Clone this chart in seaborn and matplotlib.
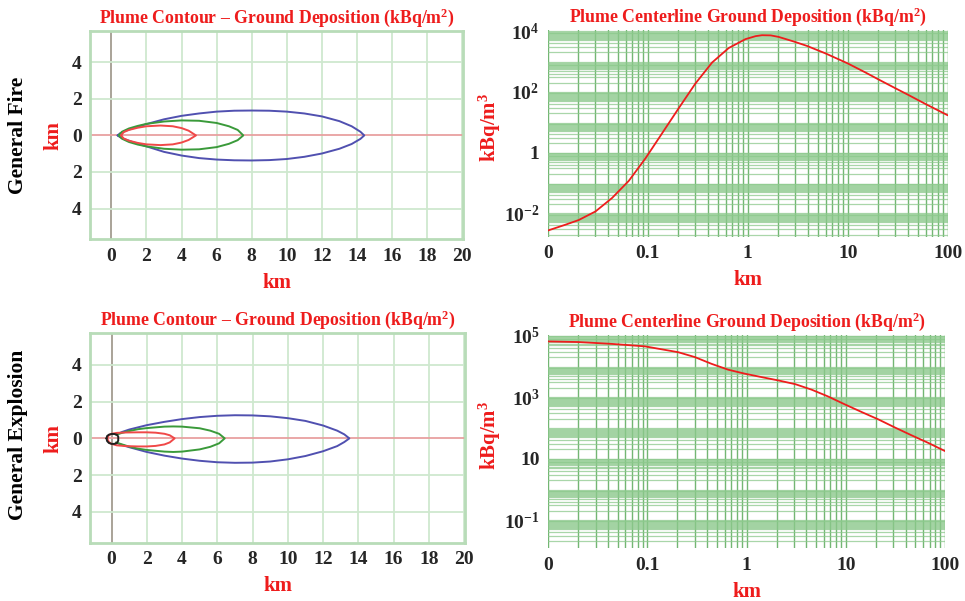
import numpy as np
import pandas as pd
import matplotlib
matplotlib.use("Agg")
import matplotlib.pyplot as plt
from matplotlib.ticker import FixedLocator, FixedFormatter, LogLocator, NullFormatter
import seaborn as sns

sns.set_theme(style="white")
plt.rcParams["font.family"] = ["Liberation Serif", "DejaVu Serif"]
plt.rcParams["font.weight"] = "bold"
plt.rcParams["mathtext.fontset"] = "custom"
plt.rcParams["mathtext.rm"] = "Liberation Serif:bold"
plt.rcParams["mathtext.it"] = "Liberation Serif:bold"
plt.rcParams["mathtext.bf"] = "Liberation Serif:bold"

# ---------------- data ----------------
row_labels = ["General Fire", "General Explosion"]
contour_title = "Plume Contour \u2013 Ground Deposition (kBq/m$^{2}$)"
center_title = "Plume Centerline Ground Deposition (kBq/m$^{2}$)"

contour_xticks = [0, 2, 4, 6, 8, 10, 12, 14, 16, 18, 20]
contour_yticks = [-4, -2, 0, 2, 4]
contour_yticklabels = ["4", "2", "0", "2", "4"]

# General Fire contours (x km, upper / lower half-width km)
fire_blue_x = [0.35, 0.5, 0.8, 1.2, 2, 3, 4, 5, 6, 7, 8, 9, 10, 11, 12, 13, 13.7, 14.2, 14.42]
fire_blue_up = [0, 0.12, 0.25, 0.38, 0.62, 0.88, 1.07, 1.2, 1.3, 1.35, 1.36, 1.35, 1.3, 1.2, 1.04, 0.78, 0.5, 0.2, 0]
fire_blue_lo = [0, -0.1, -0.22, -0.36, -0.6, -0.9, -1.1, -1.24, -1.32, -1.36, -1.37, -1.35, -1.29, -1.17, -0.99, -0.73, -0.47, -0.19, 0]

fire_green_x = [0.42, 0.6, 1, 1.5, 2, 3, 4, 5, 6, 6.7, 7.2, 7.52]
fire_green_up = [0, 0.2, 0.38, 0.52, 0.63, 0.76, 0.82, 0.8, 0.68, 0.5, 0.3, 0]
fire_green_lo = [0, -0.18, -0.36, -0.5, -0.6, -0.73, -0.78, -0.76, -0.64, -0.46, -0.26, 0]

fire_red_x = [0.55, 0.7, 1, 1.5, 2, 2.8, 3.5, 4, 4.4, 4.82]
fire_red_up = [0, 0.18, 0.3, 0.42, 0.5, 0.54, 0.5, 0.4, 0.26, 0]
fire_red_lo = [0, -0.17, -0.29, -0.41, -0.49, -0.53, -0.49, -0.39, -0.25, 0]

# General Explosion contours
expl_blue_x = [0.3, 0.6, 1, 2, 3, 4, 5, 6, 7, 8, 9, 10, 11, 12, 12.8, 13.2, 13.49]
expl_blue_up = [0.22, 0.35, 0.48, 0.72, 0.9, 1.05, 1.16, 1.23, 1.26, 1.25, 1.2, 1.1, 0.95, 0.7, 0.42, 0.22, 0]
expl_blue_lo = [-0.25, -0.36, -0.48, -0.74, -0.94, -1.1, -1.22, -1.3, -1.33, -1.32, -1.26, -1.14, -0.96, -0.7, -0.42, -0.2, 0]

expl_green_x = [0.25, 0.6, 1, 1.5, 2, 3, 3.5, 4, 5, 5.6, 6.1, 6.42]
expl_green_up = [0.2, 0.3, 0.4, 0.5, 0.56, 0.64, 0.65, 0.64, 0.55, 0.42, 0.25, 0]
expl_green_lo = [-0.22, -0.33, -0.45, -0.56, -0.63, -0.72, -0.74, -0.72, -0.6, -0.46, -0.27, 0]

expl_red_x = [-0.25, -0.15, 0, 0.3, 0.8, 1.5, 2, 2.5, 3, 3.3, 3.58]
expl_red_up = [0, 0.18, 0.25, 0.3, 0.32, 0.33, 0.33, 0.31, 0.25, 0.17, 0]
expl_red_lo = [0, -0.2, -0.3, -0.38, -0.42, -0.44, -0.44, -0.41, -0.33, -0.22, 0]

expl_black_x = [-0.29, -0.25, -0.15, 0, 0.15, 0.3, 0.38]
expl_black_up = [0, 0.13, 0.2, 0.24, 0.24, 0.2, 0.1]
expl_black_lo = [0, -0.15, -0.25, -0.3, -0.3, -0.26, -0.12]

# Centerline deposition (km, kBq/m2)
fire_cl_x = [0.01, 0.015, 0.0204, 0.030, 0.044, 0.0646, 0.095, 0.139, 0.204, 0.30, 0.44, 0.645,
             0.95, 1.2, 1.39, 1.7, 2.04, 2.88, 3.9, 6.0, 10, 15, 20, 30, 40, 60, 100]
fire_cl_y = [2.7e-3, 4.2e-3, 6.0e-3, 0.0115, 0.032, 0.117, 0.65, 4.3, 29, 190, 930, 2800,
             5500, 6900, 7400, 7300, 6500, 4600, 3300, 1860, 870, 440, 265, 132, 81, 40, 17]

expl_cl_x = [0.01, 0.02, 0.0437, 0.094, 0.204, 0.30, 0.444, 0.652, 0.96, 1.41, 2.09, 3.09, 4.52,
             6.6, 9.8, 14.5, 21.4, 31.3, 45.7, 67.6, 93.3, 100]
expl_cl_y = [64600, 61700, 53700, 44700, 28800, 20000, 12000, 7760, 5750, 4470, 3470, 2630, 1740,
             1050, 575, 324, 186, 102, 57.5, 32.4, 19.5, 17.5]

log_xticks = [0.01, 0.1, 1, 10, 100]
log_xticklabels = ["0", "0.1", "1", "10", "100"]
fire_yticks = [1e-2, 1, 1e2, 1e4]
fire_yticklabels = [r"$10^{-2}$", "1", r"$10^{2}$", r"$10^{4}$"]
expl_yticks = [1e-1, 10, 1e3, 1e5]
expl_yticklabels = [r"$10^{-1}$", "10", r"$10^{3}$", r"$10^{5}$"]

RED = "#ee1c1c"

fig = plt.figure(figsize=(9.65, 6.01), dpi=100)
ax_tl = fig.add_axes([0.0933, 0.6018, 0.3865, 0.347])
ax_bl = fig.add_axes([0.0933, 0.0970, 0.3886, 0.3484])
ax_tr = fig.add_axes([0.5676, 0.6062, 0.4145, 0.3439])
ax_br = fig.add_axes([0.5682, 0.0877, 0.4111, 0.3550])


def closed_path(xs, up, lo):
    x = list(xs) + list(xs)[::-1]
    y = list(up) + list(lo)[::-1]
    return pd.DataFrame({"x": x, "y": y})


def contour_axes(ax, contours):
    ax.set_xlim(-1.22, 20.05)
    ax.set_ylim(-5.68, 5.72)
    for xv in contour_xticks:
        ax.axvline(xv, color="#a39c90" if xv == 0 else "#cfe8cf", lw=1.3, zorder=0)
    for yv in contour_yticks:
        ax.axhline(yv, color="#e8a0a0" if yv == 0 else "#cfe8cf", lw=1.3, zorder=0)
    for xs, up, lo, col in contours:
        df = closed_path(xs, up, lo)
        sns.lineplot(data=df, x="x", y="y", sort=False, estimator=None, color=col,
                     lw=1.4, ax=ax)
    ax.set_xticks(contour_xticks)
    ax.set_yticks(contour_yticks)
    ax.set_yticklabels(contour_yticklabels)
    ax.tick_params(length=0, labelsize=14, pad=6)
    for sp in ax.spines.values():
        sp.set_color("#b8dcb8")
        sp.set_linewidth(2)
    ax.set_xlabel("km", color=RED, fontsize=15, fontweight="bold", labelpad=6)
    ax.set_ylabel("km", color=RED, fontsize=15, fontweight="bold", labelpad=6)
    ax.set_title(contour_title, color=RED, fontsize=12.8, fontweight="bold", pad=6)


def log_axes(ax, xs, ys, ylim, yticks, yticklabels, label_x):
    df = pd.DataFrame({"x": xs, "y": ys})
    ax.set_xscale("log")
    ax.set_yscale("log")
    ax.set_xlim(0.01, 100)
    ax.set_ylim(*ylim)
    ax.xaxis.set_minor_locator(LogLocator(base=10, subs=np.arange(2, 10)))
    ax.yaxis.set_minor_locator(LogLocator(base=10, subs=[2, 3, 4, 5, 5.5, 6, 6.5, 7, 7.5, 8, 8.5, 9, 9.5], numticks=40))
    ax.xaxis.set_minor_formatter(NullFormatter())
    ax.yaxis.set_minor_formatter(NullFormatter())
    ax.grid(True, which="both", axis="x", color="#5aaa5a", lw=1.0, alpha=0.85)
    ax.grid(True, which="both", axis="y", color="#8cc98c", lw=0.9, alpha=0.75)
    ax.set_axisbelow(True)
    sns.lineplot(data=df, x="x", y="y", color=RED, lw=1.3, ax=ax)
    ax.xaxis.set_major_locator(FixedLocator(log_xticks))
    ax.xaxis.set_major_formatter(FixedFormatter(log_xticklabels))
    ax.yaxis.set_major_locator(FixedLocator(yticks))
    ax.yaxis.set_major_formatter(FixedFormatter(yticklabels))
    ax.tick_params(which="both", length=0, labelsize=14, pad=6)
    for name, sp in ax.spines.items():
        sp.set_visible(False)
    ax.set_xlabel("km", color=RED, fontsize=15, fontweight="bold", labelpad=6)
    ax.set_ylabel("kBq/m$^{3}$", color=RED, fontsize=15, fontweight="bold")
    ax.yaxis.set_label_coords(label_x, 0.53)
    ax.set_title(center_title, color=RED, fontsize=12.8, fontweight="bold", pad=6)


contour_axes(ax_tl, [
    (fire_blue_x, fire_blue_up, fire_blue_lo, "#5050b0"),
    (fire_green_x, fire_green_up, fire_green_lo, "#3a9a3a"),
    (fire_red_x, fire_red_up, fire_red_lo, "#f04848"),
])
contour_axes(ax_bl, [
    (expl_blue_x, expl_blue_up, expl_blue_lo, "#5050b0"),
    (expl_green_x, expl_green_up, expl_green_lo, "#3a9a3a"),
    (expl_red_x, expl_red_up, expl_red_lo, "#f04848"),
    (expl_black_x, expl_black_up, expl_black_lo, "#202020"),
])

log_axes(ax_tr, fire_cl_x, fire_cl_y, (10 ** -2.77, 1.1e4), fire_yticks, fire_yticklabels, -0.112)
log_axes(ax_br, expl_cl_x, expl_cl_y, (10 ** -1.92, 1.05e5), expl_yticks, expl_yticklabels, -0.114)

fig.text(0.019, 1 - 135 / 601, row_labels[0], rotation=90, ha="center", va="center",
         fontsize=15.5, fontweight="bold", color="black")
fig.text(0.019, 1 - 435 / 601, row_labels[1], rotation=90, ha="center", va="center",
         fontsize=15.5, fontweight="bold", color="black")

fig.savefig("out.png", dpi=100)
